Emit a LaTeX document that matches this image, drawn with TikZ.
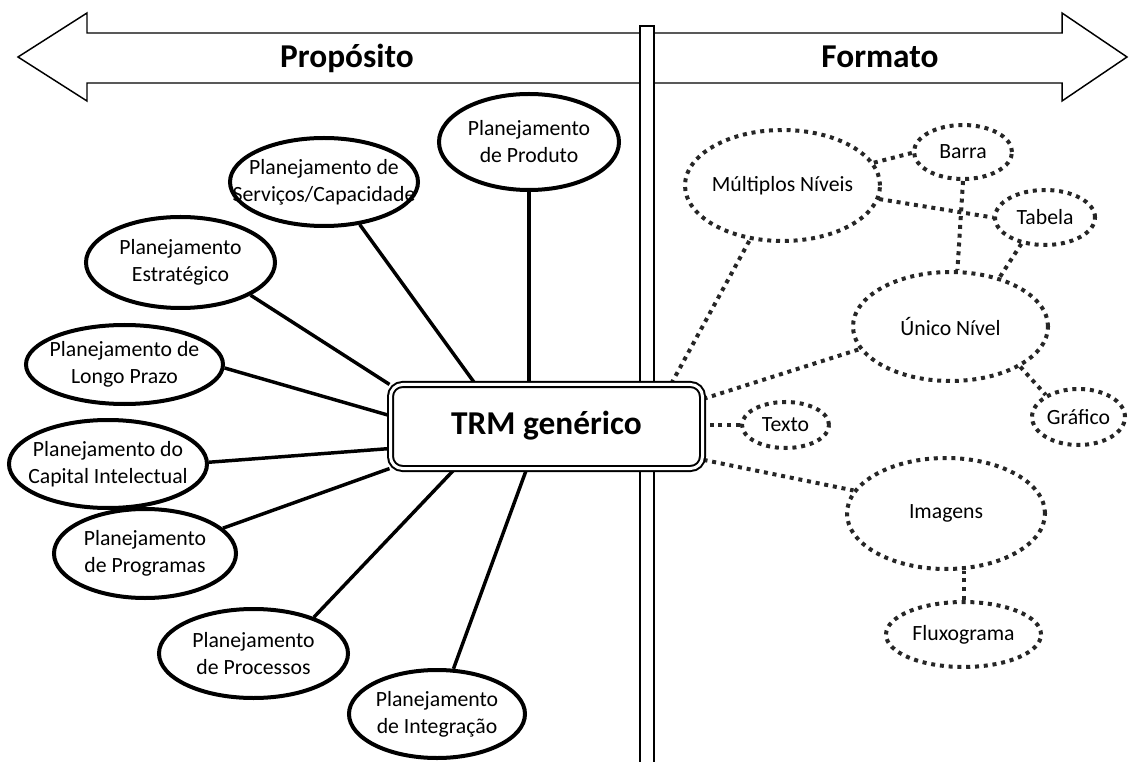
\documentclass[tikz,border=0pt]{standalone}
\usepackage{fontspec}
\setmainfont{Carlito}
\usetikzlibrary{shapes.geometric,calc}
\pgfdeclarelayer{paper}
\pgfdeclarelayer{background}
\pgfsetlayers{paper,background,main}
\newcommand\pxu{0.75pt}
\begin{document}
\begin{tikzpicture}[x=0.75pt,y=-0.75pt,
  lbl/.style={font=\fontsize{16.3}{20.25}\selectfont, align=center, inner sep=0pt},
  plan/.style={ellipse, draw, line width=3pt, fill=white, inner sep=0pt},
  fmt/.style={ellipse, draw=black!85, line width=3pt, dash pattern=on 3pt off 3.6pt, fill=white, inner sep=0pt},
  spoke/.style={line width=2.6pt},
  dotlink/.style={draw=black!85, line width=3pt, dash pattern=on 3pt off 3.6pt},
  bigarrow/.style={draw, line width=1.1pt, fill=white, line join=miter},
  heading/.style={font=\bfseries\fontsize{25}{30}\selectfont, inner sep=0pt},
]
\begin{pgfonlayer}{paper}
  \fill[white] (0,0) rectangle (1130,762);
\end{pgfonlayer}
\useasboundingbox (0,0) rectangle (1130,762);

% the two direction arrows and the post between them
\draw[bigarrow] (640,33) -- (87,33) -- (87,13) -- (18,57) -- (87,101) -- (87,83) -- (640,83);
\draw[bigarrow] (654,33) -- (1062,33) -- (1062,13) -- (1127,57) -- (1062,101) -- (1062,83) -- (654,83);
\node[heading, anchor=base] (purpose) at (347,67.5) {Propósito};
\node[heading, anchor=base] (format) at (880,67.5) {Formato};
\draw[line width=1.5pt, fill=white] (640,26) rectangle (654,770);

% central roadmap box
\node[draw, double=white, double distance=2.25pt, line width=1.5pt, fill=white,
      rounded corners=9pt, minimum width=312*\pxu, minimum height=84*\pxu,
      inner sep=0pt, heading, text height=16pt, text depth=4.75pt] (trm) at (546.5,426.5) {TRM genérico};

% purposes (left)
\node[plan, minimum width=180*\pxu, minimum height=96*\pxu] (prod) at (529,142) {};
\node[lbl] (prod-t) at (prod) {Planejamento\\de Produto};
\node[plan, minimum width=188*\pxu, minimum height=88*\pxu] (serv) at (324,182) {};
\node[lbl] (serv-t) at (serv) {Planejamento de\\Serviços/Capacidade};
\node[plan, minimum width=189*\pxu, minimum height=91*\pxu] (estr) at (180.5,262.5) {};
\node[lbl] (estr-t) at (estr) {Planejamento\\Estratégico};
\node[plan, minimum width=197*\pxu, minimum height=79*\pxu] (longo) at (124.5,364.5) {};
\node[lbl] (longo-t) at (longo) {Planejamento de\\Longo Prazo};
\node[plan, minimum width=198*\pxu, minimum height=88*\pxu] (capi) at (108,464) {};
\node[lbl] (capi-t) at (capi) {Planejamento do\\Capital Intelectual};
\node[plan, minimum width=182*\pxu, minimum height=89*\pxu] (prog) at (145,553.5) {};
\node[lbl] (prog-t) at (prog) {Planejamento\\de Programas};
\node[plan, minimum width=189*\pxu, minimum height=89*\pxu] (proc) at (253.5,653.5) {};
\node[lbl] (proc-t) at (proc) {Planejamento\\de Processos};
\node[plan, minimum width=176*\pxu, minimum height=88*\pxu] (integ) at (437,714) {};
\node[lbl] (integ-t) at (integ) {Planejamento\\de Integração};

% formats (right)
\node[fmt, minimum width=195*\pxu, minimum height=111*\pxu] (mult) at (782.5,185.5) {};
\node[lbl] (mult-t) at (mult) {Múltiplos Níveis};
\node[fmt, minimum width=98*\pxu, minimum height=54*\pxu] (barra) at (963,152) {};
\node[lbl] (barra-t) at (barra) {Barra};
\node[fmt, minimum width=100*\pxu, minimum height=55*\pxu] (tab) at (1045,217.5) {};
\node[lbl] (tab-t) at (tab) {Tabela};
\node[fmt, minimum width=195*\pxu, minimum height=109*\pxu] (unico) at (950.5,326.5) {};
\node[lbl] (unico-t) at (unico) {Único Nível};
\node[fmt, minimum width=93*\pxu, minimum height=56*\pxu] (graf) at (1078.5,417) {};
\node[lbl] (graf-t) at (graf) {Gráfico};
\node[fmt, minimum width=87*\pxu, minimum height=46*\pxu] (texto) at (785.5,425) {};
\node[lbl] (texto-t) at (texto) {Texto};
\node[fmt, minimum width=198*\pxu, minimum height=111*\pxu] (imag) at (946,513.5) {};
\node[lbl] (imag-t) at (imag) {Imagens};
\node[fmt, minimum width=155*\pxu, minimum height=65*\pxu] (flux) at (963.5,634.5) {};
\node[lbl] (flux-t) at (flux) {Fluxograma};

% connectors, kept under the white node fills
\begin{pgfonlayer}{background}
  \draw[spoke] (prod.south) -- (prod.south |- trm.north);
  \draw[spoke] (serv.-50) -- (trm.149.9);
  \draw[spoke] (estr.-25) -- (trm.165);
  \draw[spoke] (longo.-2) -- (trm.176.2);
  \draw[spoke] (capi.1) -- (trm.188.4);
  \draw[spoke] (prog.18) -- (trm.195.5);
  \draw[spoke] (proc.31) -- (trm.205.9);
  \draw[spoke] (integ.70) -- (trm.245.1);

  \draw[dotlink] (trm.19.2) -- (mult.239);
  \draw[dotlink] (mult.14.7) -- (barra.181);
  \draw[dotlink] (mult.-8.5) -- (tab.180);
  \draw[dotlink] (barra.south) -- (unico.83);
  \draw[dotlink] (tab.228) -- (unico.45);
  \draw[dotlink] (trm.10.4) -- (unico.194.3);
  \draw[dotlink] (unico.-30.8) -- (graf.146);
  \draw[dotlink] (texto.west) -- (texto.west -| trm.east);
  \draw[dotlink] (trm.-12.1) -- (imag.166.2);
  \draw[dotlink] (flux.north) -- (flux.north |- imag.south);
\end{pgfonlayer}
\end{tikzpicture}
\end{document}
